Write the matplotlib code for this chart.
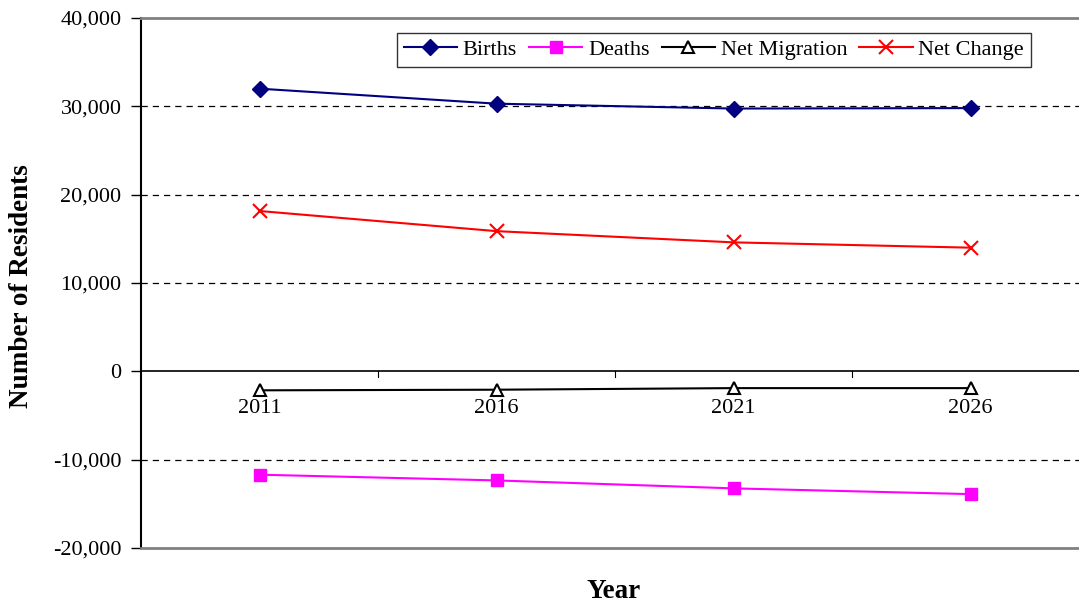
import matplotlib
matplotlib.use("Agg")
import matplotlib.pyplot as plt
from matplotlib.ticker import FuncFormatter, FixedLocator

plt.rcParams['font.family'] = ['Liberation Serif', 'DejaVu Serif']

years = ["2011", "2016", "2021", "2026"]
births = [32000, 30300, 29750, 29800]
deaths = [-11700, -12350, -13250, -13900]
net_migration = [-2150, -2080, -1900, -1900]
net_change = [18150, 15870, 14600, 14000]

W, H = 1079, 606
fig = plt.figure(figsize=(W / 100, H / 100), dpi=100)
# plot area spans 4 category bands; its right edge runs past the figure
left, right, top, bottom = 141, 141 + 948, 18, 548
ax = fig.add_axes([left / W, 1 - bottom / H, (right - left) / W, (bottom - top) / H])

x = list(range(len(years)))
ax.plot(x, births, color='#000080', marker='D', markersize=8, lw=1.5, label='Births', zorder=4)
ax.plot(x, deaths, color='#FF00FF', marker='s', markersize=8, lw=1.5, label='Deaths', zorder=4)
ax.plot(x, net_migration, color='black', marker='^', markersize=8, markerfacecolor='white',
        markeredgewidth=1.5, lw=1.5, label='Net Migration', zorder=4)
ax.plot(x, net_change, color='#FF0000', marker='x', markersize=10, markeredgewidth=1.5,
        lw=1.5, label='Net Change', zorder=4)

ax.set_xlim(-0.5, len(years) - 0.5)
ax.set_ylim(-20000, 40000)
ax.yaxis.set_major_locator(FixedLocator(range(-20000, 40001, 10000)))
ax.yaxis.set_major_formatter(FuncFormatter(lambda v, p: f"{int(v):,}"))
ax.tick_params(axis='y', direction='out', length=7, labelsize=16, pad=7, width=1)

# dashed grid lines
for v in (-10000, 10000, 20000, 30000):
    ax.axhline(v, color='black', lw=0.9, ls=(0, (5, 4)), zorder=1)

# category axis drawn at zero
ax.axhline(0, color='black', lw=1.2, zorder=2)
ax.set_xticks([])
for b in (0.5, 1.5, 2.5):
    ax.plot([b, b], [0, -650], color='black', lw=0.8, zorder=2)
for i, yr in enumerate(years):
    ax.text(i, -3100, yr, ha='center', va='top', fontsize=16, zorder=5)

for s in ('top', 'bottom', 'right'):
    ax.spines[s].set_color('#808080')
    ax.spines[s].set_linewidth(2)
ax.spines['left'].set_color('black')
ax.spines['left'].set_linewidth(1.5)

ax.set_ylabel('Number of Residents', fontsize=19.5, fontweight='bold')
ax.yaxis.set_label_coords((34 - left) / (right - left), (bottom - 286) / (bottom - top))
fig.text(614 / W, 1 - 592 / H, 'Year', ha='center', va='center', fontsize=19.5, fontweight='bold')

leg = ax.legend(loc='upper left', bbox_to_anchor=((397 - left) / (right - left), 1 - (33 - top) / (bottom - top)),
                ncol=4, fontsize=16, frameon=True, fancybox=False, edgecolor='black',
                handlelength=2.4, handletextpad=0.25, columnspacing=0.55, borderpad=0.3,
                borderaxespad=0)
leg.get_frame().set_linewidth(1)

fig.savefig('out.png', dpi=100, facecolor='white')
